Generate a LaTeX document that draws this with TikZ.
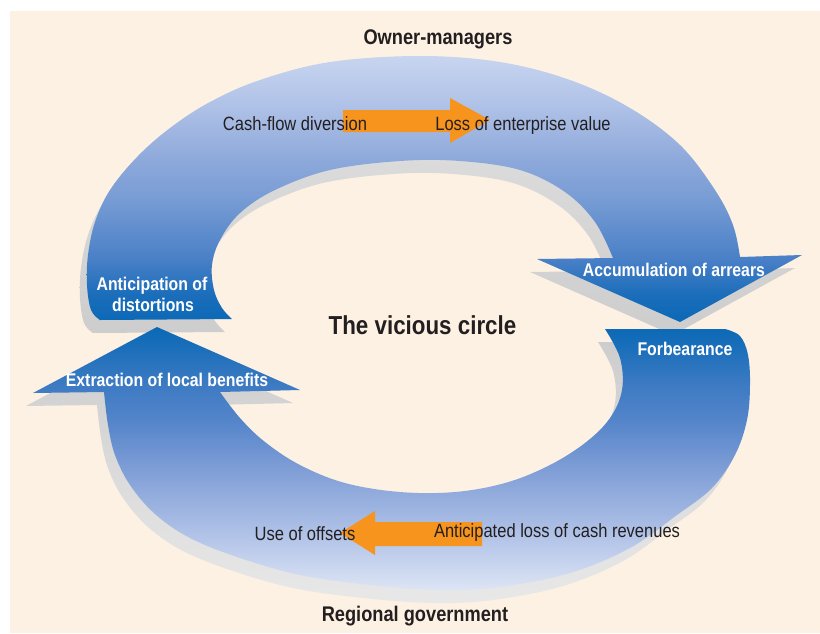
\documentclass[tikz,border=0pt]{standalone}
\usepackage{fontspec}
\setmainfont{Liberation Sans}[FakeStretch=0.86]

% palette
\definecolor{paper}{RGB}{253,241,227}
\definecolor{ink}{RGB}{35,31,32}
\definecolor{shadowdark}{RGB}{205,205,205}
\definecolor{shadowlight}{RGB}{226,226,226}
\definecolor{shadowpale}{RGB}{232,232,232}
\definecolor{flow}{RGB}{247,148,29}
\definecolor{bA}{RGB}{11,105,182}
\definecolor{bB}{RGB}{26,109,186}
\definecolor{bC}{RGB}{74,128,199}
\definecolor{bD}{RGB}{119,156,212}
\definecolor{bE}{RGB}{143,170,219}
\definecolor{bF}{RGB}{173,192,230}
\definecolor{bG}{RGB}{200,213,240}
\definecolor{lB}{RGB}{31,112,187}
\definecolor{lC}{RGB}{57,121,194}
\definecolor{lD}{RGB}{85,133,202}
\definecolor{lE}{RGB}{127,158,214}
\definecolor{lF}{RGB}{179,196,232}
\definecolor{lG}{RGB}{221,229,245}

% upper band: light at the top, dark at the bottom
\pgfdeclareverticalshading{upshade}{100bp}{color(0bp)=(bA); color(25bp)=(bA);
  color(30bp)=(bB); color(37bp)=(bC); color(48bp)=(bD); color(56bp)=(bE);
  color(65bp)=(bF); color(75bp)=(bG); color(100bp)=(bG)}
% lower band: dark at the top, light at the bottom
\pgfdeclareverticalshading{lowshade}{100bp}{color(0bp)=(lG); color(25bp)=(lG);
  color(35bp)=(lF); color(48bp)=(lE); color(57bp)=(lD); color(65bp)=(lC);
  color(70bp)=(lB); color(75bp)=(bA); color(100bp)=(bA)}

\tikzset{
  upperband/.pic={
    \path[pic actions] (232,319) -- (100,320)
      -- plot[smooth,tension=0.6] coordinates {(100,320) (91,310) (87,285) (88,255)
         (95,222) (110,190) (137,157) (170,128) (210,102) (260,80) (330,62) (420,56)
         (500,62) (570,80) (630,108) (680,145) (715,190) (733,225) (740,257)}
      -- (802,255) -- (680,322) -- (537,259)
      -- plot[smooth,tension=0.6] coordinates {(613,258) (595,222) (565,192) (520,170)
         (460,161) (400,161) (330,170) (275,190) (240,213) (220,240) (212,265)
         (214,290) (222,308) (232,319)}
      -- cycle;
  },
  lowerband/.pic={
    \path[pic actions] (605,329) -- (725,329)
      -- plot[smooth,tension=0.6] coordinates {(725,329) (740,336) (748,355) (750,385)
         (747,420) (735,455) (712,488) (677,515) (630,548) (570,573) (500,587)
         (440,590) (370,585) (300,575) (240,558) (190,538) (155,514) (130,485)
         (115,455) (108,425) (104,392)}
      -- (33,393) -- (157,327) -- (300,390)
      -- plot[smooth,tension=0.6] coordinates {(220,392) (240,418) (265,442) (300,465)
         (345,483) (400,492) (455,492) (505,483) (548,466) (585,443) (610,418)
         (622,390) (620,358) (605,329)}
      -- cycle;
  },
  plain/.style={text=ink, inner sep=0pt, anchor=base,
    font=\fontsize{19.2}{22}\selectfont},
  onband/.style={text=white, inner sep=0pt, anchor=base,
    font=\fontsize{18.4}{22}\selectfont\bfseries},
  actor/.style={text=ink, inner sep=0pt, anchor=base,
    font=\fontsize{21.2}{24}\selectfont\bfseries},
  heading/.style={text=ink, inner sep=0pt, anchor=base,
    font=\fontsize{26}{30}\selectfont\bfseries},
}

\begin{document}
\begin{tikzpicture}[x=1pt,y=-1pt]
  % page and panel
  \fill[white] (0,0) rectangle (820,633);
  \useasboundingbox (0,0) rectangle (820,633);
  \fill[paper] (10,11) rectangle (820,633);

  % drop shadows of both bands
  \pic[shade, top color=shadowlight, bottom color=shadowdark] at (-7,13) {upperband};
  \pic[shade, top color=shadowdark, bottom color=shadowpale] at (-7,13) {lowerband};

  % the two curved arrows
  \pic[shade, shading=upshade] {upperband};
  \pic[shade, shading=lowshade] {lowerband};

  % orange flow arrows
  \fill[flow] (343,110) -- (450,110) -- (450,98) -- (490,120) -- (450,143)
    -- (450,132) -- (343,132) -- cycle;
  \fill[flow] (482,522) -- (375,522) -- (375,511) -- (340,533) -- (375,555)
    -- (375,546) -- (482,546) -- cycle;

  % labels
  \node[actor] (owners) at (438,44.5) {Owner-managers};
  \node[actor] (region) at (415,621.5) {Regional government};
  \node[heading] (title) at (422.5,334) {The vicious circle};

  \node[plain] (divert) at (295,130.5) {Cash-flow diversion};
  \node[plain] (lossval) at (523,130) {Loss of enterprise value};
  \node[plain] (offsets) at (305,540) {Use of offsets};
  \node[plain] (losscash) at (557,537) {Anticipated loss of cash revenues};

  \node[onband] (arrears) at (674,276) {Accumulation of arrears};
  \node[onband] (forbear) at (685,355) {Forbearance};
  \node[onband] (anticipA) at (152,290) {Anticipation of};
  \node[onband] (anticipB) at (153,311.7) {distortions};
  \node[onband] (extract) at (167,386.7) {Extraction of local benefits};
\end{tikzpicture}
\end{document}
